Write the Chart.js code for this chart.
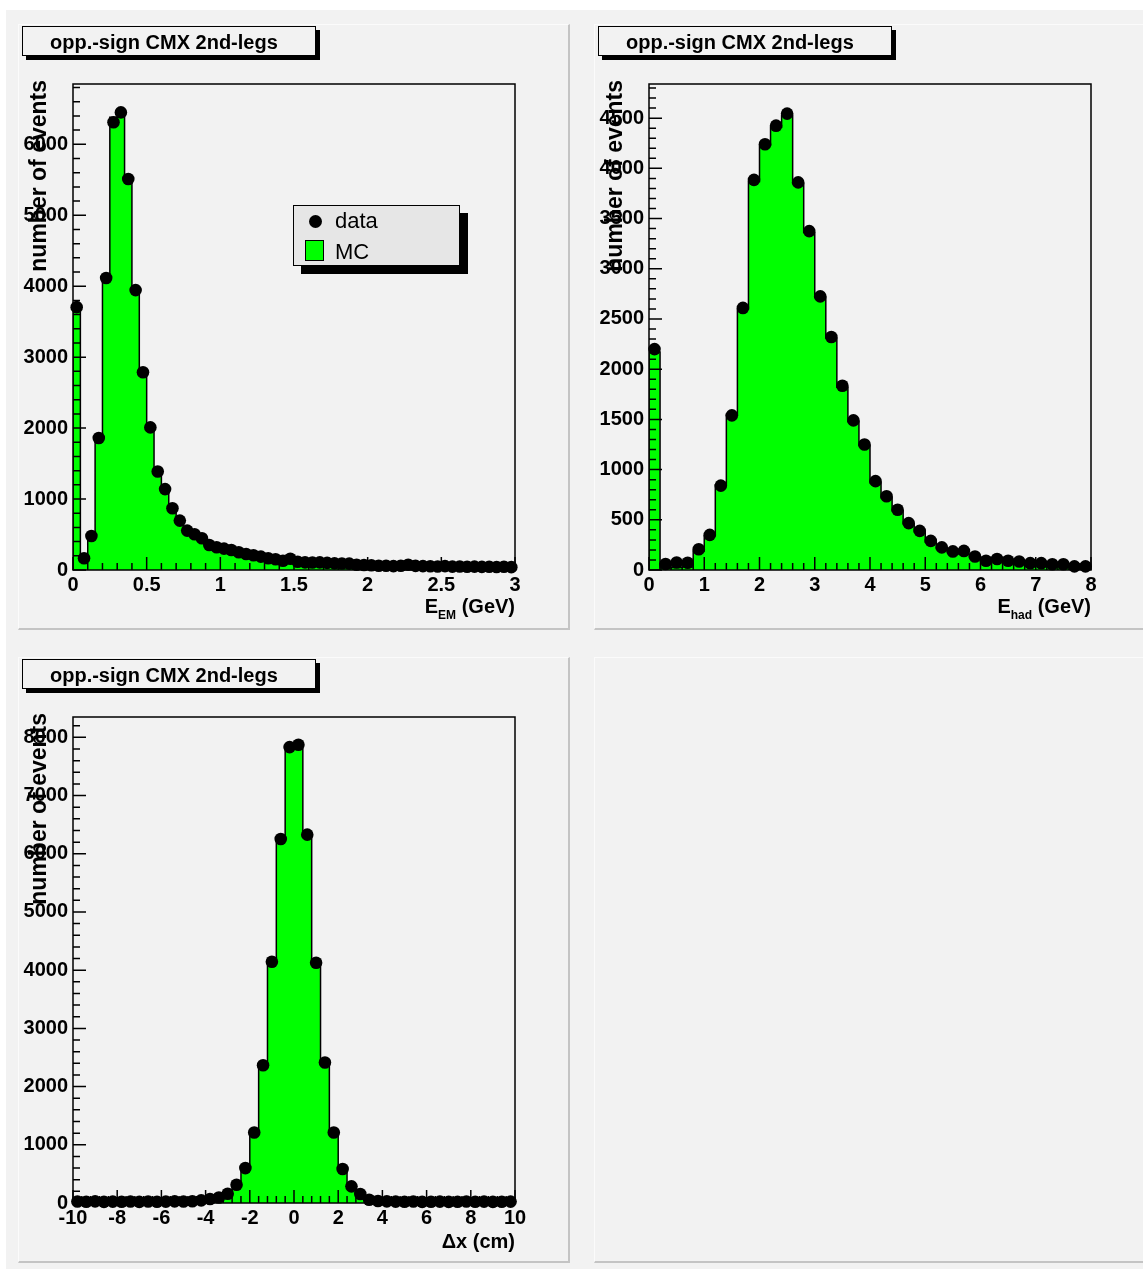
<!DOCTYPE html>
<html>
<head>
<meta charset="utf-8">
<script src="https://cdn.jsdelivr.net/npm/chart.js@4.4.1/dist/chart.umd.min.js"></script>
<style>
  body { margin: 0; background: #fff; }
  #page { position: relative; width: 1143px; height: 1269px; overflow: hidden; font-family: "Liberation Sans", Arial, sans-serif; }
  #bg { position: absolute; left: 6px; top: 10px; right: 0; bottom: 0; background: #f2f2f2; }
  .pad { position: absolute; width: 552px; height: 606px; background: #f2f2f2; box-sizing: border-box;
         border-top: 1px solid #fbfbfb; border-left: 1px solid #fbfbfb;
         border-right: 2px solid #c4c4c4; border-bottom: 2px solid #c4c4c4; }
  .pad canvas { position: absolute; left: -1px; top: -1px; }
  .title { position: absolute; width: 294px; height: 30px; box-sizing: border-box; border: 1.5px solid #000;
           background: #f2f2f2; box-shadow: 4px 4px 0 #000; font-weight: bold; font-size: 20px;
           line-height: 27px; padding-left: 27px; padding-top: 2px; z-index: 2; }
  #legend { position: absolute; left: 293px; top: 205px; width: 167px; height: 61px; box-sizing: border-box;
            border: 1px solid #000; background: #e6e6e6; box-shadow: 8px 8px 0 #000; z-index: 2; font-size: 22px; }
  #legend .dot { position: absolute; left: 15px; top: 9px; width: 13px; height: 13px; border-radius: 50%; background: #000; }
  #legend .box { position: absolute; left: 11px; top: 34px; width: 19px; height: 21px; box-sizing: border-box; border: 1px solid #000; background: #00ff00; }
  #legend span { position: absolute; left: 41px; line-height: 22px; }
</style>
</head>
<body>
<div id="page">
  <div id="bg"></div>
  <div class="pad" style="left:18px; top:24px;"><canvas id="cEM" width="552" height="606"></canvas></div>
  <div class="pad" style="left:594px; top:24px;"><canvas id="cHad" width="552" height="606"></canvas></div>
  <div class="pad" style="left:18px; top:657px;"><canvas id="cDx" width="552" height="606"></canvas></div>
  <div class="pad" style="left:594px; top:657px;"></div>

  <div class="title" style="left:22px; top:26px;">opp.-sign CMX 2nd-legs</div>
  <div class="title" style="left:598px; top:26px;">opp.-sign CMX 2nd-legs</div>
  <div class="title" style="left:22px; top:659px;">opp.-sign CMX 2nd-legs</div>

  <div id="legend">
    <div class="dot"></div><span style="top:4px;">data</span>
    <div class="box"></div><span style="top:35px;">MC</span>
  </div>
</div>

<script>
// E_EM: 60 bins from 0 to 3 GeV
const emLo = 0, emBinW = 0.05;
const emData = [3705, 165, 480, 1860, 4115, 6310, 6450, 5510, 3945, 2787,
                2010, 1388, 1140, 871, 696, 555, 504, 448, 353, 321,
                301, 282, 250, 226, 208, 188, 165, 151, 131, 159,
                117, 108, 105, 108, 100, 94, 92, 90, 75, 70,
                66, 60, 60, 55, 60, 75, 58, 55, 52, 50,
                55, 48, 50, 45, 48, 44, 45, 42, 45, 40];
const emMC = [3650, 150, 470, 1850, 4150, 6380, 6420, 5520, 3960, 2770,
              1990, 1370, 1100, 840, 660, 520, 470, 410, 330, 295,
              270, 250, 220, 200, 180, 160, 140, 125, 110, 105,
              95, 85, 80, 75, 70, 65, 60, 55, 52, 50,
              48, 45, 42, 40, 40, 38, 36, 35, 34, 33,
              32, 31, 30, 30, 29, 28, 28, 27, 26, 25];
const emXTicks = [0, 0.5, 1, 1.5, 2, 2.5, 3];
const emYTicks = [0, 1000, 2000, 3000, 4000, 5000, 6000];

// E_had: 40 bins from 0 to 8 GeV
const hadLo = 0, hadBinW = 0.2;
const hadData = [2200, 60, 75, 72, 207, 350, 840, 1540, 2610, 3885,
                 4240, 4425, 4545, 3860, 3375, 2725, 2320, 1835, 1490, 1250,
                 885, 735, 600, 467, 390, 290, 225, 185, 190, 135,
                 92, 110, 92, 85, 68, 68, 58, 58, 36, 36];
const hadMC = [2170, 20, 25, 30, 190, 340, 850, 1550, 2600, 3870,
               4230, 4410, 4530, 3850, 3360, 2715, 2310, 1820, 1480, 1240,
               870, 720, 590, 460, 380, 280, 215, 175, 160, 125,
               90, 85, 75, 65, 55, 50, 45, 40, 35, 30];
const hadXTicks = [0, 1, 2, 3, 4, 5, 6, 7, 8];
const hadYTicks = [0, 500, 1000, 1500, 2000, 2500, 3000, 3500, 4000, 4500];

// delta x: 50 bins from -10 to 10 cm
const dxLo = -10, dxBinW = 0.4;
const dxData = [25, 22, 28, 20, 24, 22, 26, 20, 25, 22, 24, 28, 26,
                30, 45, 70, 95, 160, 314, 600, 1212, 2367, 4146, 6255, 7833,
                7873, 6329, 4128, 2413, 1212, 583, 286, 154, 57, 35, 28,
                24, 22, 25, 20, 22, 24, 20, 22, 25, 21, 23, 20, 22, 24];
const dxMC = [10, 10, 12, 10, 11, 10, 12, 10, 11, 12, 13, 14, 16,
              20, 30, 50, 80, 150, 300, 590, 1200, 2380, 4150, 6270, 7800,
              7810, 6300, 4130, 2400, 1210, 590, 290, 150, 60, 35, 25,
              18, 14, 12, 11, 10, 12, 10, 11, 10, 12, 10, 11, 10, 10];
const dxXTicks = [-10, -8, -6, -4, -2, 0, 2, 4, 6, 8, 10];
const dxYTicks = [0, 1000, 2000, 3000, 4000, 5000, 6000, 7000, 8000];

const FONT = '"Liberation Sans", Arial, sans-serif';
Chart.defaults.font.family = FONT;
Chart.defaults.color = '#000';

// ROOT-like frame: box, inward tick marks, axis titles
const rootFrame = {
  id: 'rootFrame',
  afterDraw(chart, args, o) {
    const ctx = chart.ctx, a = chart.chartArea;
    const xs = chart.scales.x, ys = chart.scales.y;
    ctx.save();
    ctx.strokeStyle = '#000';
    ctx.lineWidth = 1.5;
    ctx.strokeRect(a.left, a.top, a.right - a.left, a.bottom - a.top);

    ctx.beginPath();
    let n = Math.round((xs.max - xs.min) / o.xMinor);
    for (let k = 0; k <= n; k++) {
      const v = xs.min + k * o.xMinor;
      const major = Math.abs(v / o.xMajor - Math.round(v / o.xMajor)) < 1e-6;
      const px = xs.getPixelForValue(v);
      ctx.moveTo(px, a.bottom);
      ctx.lineTo(px, a.bottom - (major ? 13 : 7));
    }
    n = Math.floor((ys.max - ys.min) / o.yMinor + 1e-6);
    for (let k = 0; k <= n; k++) {
      const v = ys.min + k * o.yMinor;
      const major = Math.abs(v / o.yMajor - Math.round(v / o.yMajor)) < 1e-6;
      const py = ys.getPixelForValue(v);
      ctx.moveTo(a.left, py);
      ctx.lineTo(a.left + (major ? 13 : 7), py);
    }
    ctx.stroke();

    // x title, right aligned, with optional subscript
    ctx.fillStyle = '#000';
    ctx.textBaseline = 'alphabetic';
    ctx.textAlign = 'left';
    const big = 'bold 20px ' + FONT, small = 'bold 12px ' + FONT;
    ctx.font = big;
    const w1 = ctx.measureText(o.xTitle[0]).width;
    const w3 = ctx.measureText(o.xTitle[2]).width;
    ctx.font = small;
    const w2 = ctx.measureText(o.xTitle[1]).width;
    const x = a.right - (w1 + w2 + w3);
    const base = a.bottom + o.xTitleOff;
    ctx.font = big;
    ctx.fillText(o.xTitle[0], x, base);
    ctx.font = small;
    ctx.fillText(o.xTitle[1], x + w1, base + 6);
    ctx.font = big;
    ctx.fillText(o.xTitle[2], x + w1 + w2, base);

    // y title, rotated, ending at the top
    ctx.translate(28, 56);
    ctx.rotate(-Math.PI / 2);
    ctx.textAlign = 'right';
    ctx.font = 'bold 23px ' + FONT;
    ctx.fillText('number of events', 0, 0);
    ctx.restore();
  }
};

function histChart(id, lo, binW, dataVals, mcVals, yMax, xTicks, yTicks, ax) {
  const n = dataVals.length;
  const hi = lo + n * binW;
  const dataPts = dataVals.map((v, i) => ({ x: lo + (i + 0.5) * binW, y: v }));
  const mcPts = [{ x: lo, y: 0 }];
  mcVals.forEach((v, i) => mcPts.push({ x: lo + i * binW, y: v }));
  mcPts.push({ x: hi, y: mcVals[n - 1] }, { x: hi, y: 0 });

  return new Chart(document.getElementById(id), {
    type: 'line',
    data: {
      datasets: [
        { label: 'data', data: dataPts, showLine: false, pointRadius: 6.3, pointBorderWidth: 0,
          pointBackgroundColor: '#000', clip: false },
        { label: 'MC', data: mcPts, stepped: true, fill: 'origin', backgroundColor: '#00ff00',
          borderColor: '#000', borderWidth: 1.5, pointRadius: 0 }
      ]
    },
    options: {
      responsive: false,
      animation: false,
      events: [],
      layout: { padding: { left: 0, top: 60, right: 55, bottom: 0 } },
      plugins: {
        legend: { display: false },
        tooltip: { enabled: false },
        rootFrame: ax
      },
      scales: {
        x: {
          type: 'linear', min: lo, max: hi,
          grid: { display: false, drawTicks: false }, border: { display: false },
          ticks: { autoSkip: false, maxRotation: 0, padding: 3,
                   font: { size: 20, weight: 'bold' }, callback: v => String(v) },
          afterBuildTicks: s => { s.ticks = xTicks.map(v => ({ value: v })); },
          afterFit: s => { s.height = 60; }
        },
        y: {
          min: 0, max: yMax,
          grid: { display: false, drawTicks: false }, border: { display: false },
          ticks: { autoSkip: false, padding: 5,
                   font: { size: 20, weight: 'bold' }, callback: v => String(v) },
          afterBuildTicks: s => { s.ticks = yTicks.map(v => ({ value: v })); },
          afterFit: s => { s.width = 55; }
        }
      }
    },
    plugins: [rootFrame]
  });
}

histChart('cEM', emLo, emBinW, emData, emMC, 6850, emXTicks, emYTicks,
  { xMajor: 0.5, xMinor: 0.1, yMajor: 1000, yMinor: 200, xTitle: ['E', 'EM', ' (GeV)'], xTitleOff: 43 });
histChart('cHad', hadLo, hadBinW, hadData, hadMC, 4840, hadXTicks, hadYTicks,
  { xMajor: 1, xMinor: 0.2, yMajor: 500, yMinor: 100, xTitle: ['E', 'had', ' (GeV)'], xTitleOff: 43 });
histChart('cDx', dxLo, dxBinW, dxData, dxMC, 8350, dxXTicks, dxYTicks,
  { xMajor: 2, xMinor: 0.4, yMajor: 1000, yMinor: 200, xTitle: ['\u0394x (cm)', '', ''], xTitleOff: 45 });
</script>
</body>
</html>
